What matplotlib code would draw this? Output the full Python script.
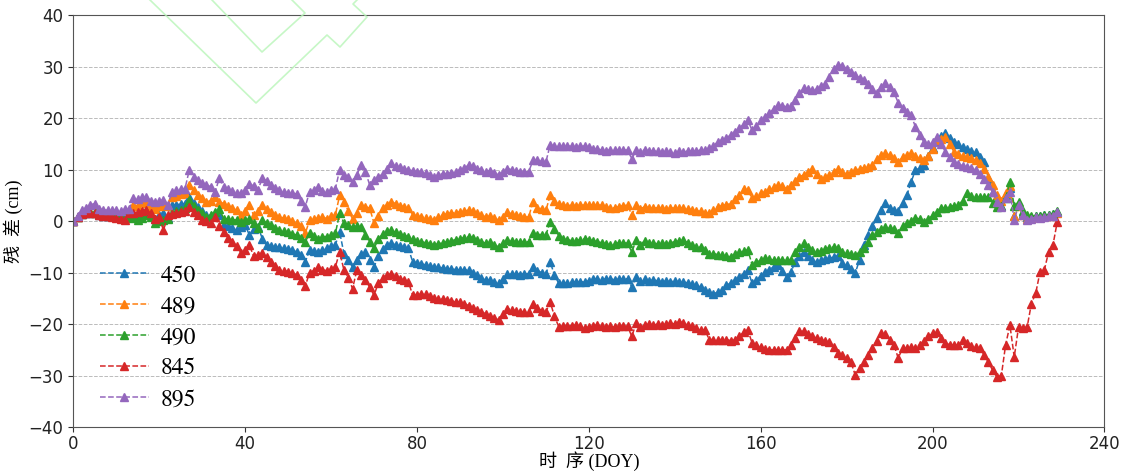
import matplotlib
matplotlib.use('Agg')
import matplotlib.pyplot as plt
from matplotlib.lines import Line2D

# residuals (cm) per day of year
doy = list(range(0, 230))

res_450 = [
    0, 0.8, 1.4, 1.6, 1.6, 1.5, 1.2, 1.0, 1.0, 0.9,
    0.9, 0.8, 0.8, 0.8, 0.8, 1.0, 1.6, 2.1, 1.2, 0.5,
    1.2, 1.5, 0.6, 3.1, 3.2, 3.3, 3.4, 4.7, 3.6, 2.8,
    2.0, 1.1, 1.0, 1.1, 1.1, -0.8, -1.0, -1.4, -1.7, -1.2,
    -0.8, -2.7, -1.6, -1.1, -3.4, -4.7, -4.8, -5.0, -5.1, -5.3,
    -5.4, -5.6, -6.0, -6.6, -7.9, -5.6, -5.8, -6.0, -5.6, -5.3,
    -4.9, -4.6, -2.1, -6.3, -7.6, -8.9, -7.5, -6.3, -6.0, -7.5,
    -8.9, -6.8, -5.5, -4.6, -4.3, -4.6, -4.9, -5.1, -5.3, -7.9,
    -8.1, -8.3, -8.5, -8.7, -8.9, -9.0, -9.1, -9.2, -9.3, -9.4,
    -9.5, -9.5, -9.5, -10.0, -10.5, -11.0, -11.5, -11.4, -11.8, -12.1,
    -11.2, -10.2, -10.3, -10.2, -10.4, -10.2, -10.2, -8.9, -9.6, -10.0,
    -10.2, -7.9, -10.5, -12.1, -12.1, -12.0, -11.9, -11.8, -11.8, -11.8,
    -11.6, -11.2, -11.2, -11.4, -11.2, -11.2, -11.4, -11.2, -11.2, -11.2,
    -12.8, -10.8, -11.6, -11.2, -11.6, -11.4, -11.6, -11.8, -11.6, -11.8,
    -11.6, -11.8, -11.8, -12.0, -12.2, -12.5, -12.8, -13.4, -13.8, -14.1,
    -13.8, -13.4, -12.5, -12.0, -11.4, -10.8, -10.2, -9.5, -12.1, -11.4,
    -10.6, -9.9, -9.4, -8.9, -8.5, -9.6, -10.8, -9.9, -8.0, -6.8,
    -6.0, -6.8, -7.6, -8.0, -7.6, -7.4, -7.2, -7.0, -6.7, -8.2,
    -8.5, -9.2, -10.1, -7.5, -4.7, -2.7, -1.0, 0.6, 2.2, 3.5,
    2.6, 2.1, 2.0, 3.5, 5.0, 7.6, 9.9, 10.4, 10.9, 12.6,
    14.2, 15.5, 16.5, 17.1, 16.2, 15.3, 14.9, 14.4, 14.0, 13.6,
    13.4, 12.4, 11.5, 8.3, 5.6, 4.0, 3.0, 5.0, 6.5, 1.0,
    3.2, 1.5, 0.8, 0.8, 1.0, 1.0, 1.1, 1.2, 1.4, 1.8,
]

res_489 = [
    0, 0.8, 1.5, 1.8, 1.8, 1.6, 1.5, 1.5, 1.6, 1.5,
    1.6, 1.5, 1.8, 2.0, 3.1, 3.0, 3.7, 3.5, 2.8, 2.4,
    3.0, 3.4, 3.0, 4.7, 4.9, 5.2, 5.4, 7.0, 6.0, 5.0,
    4.5, 3.7, 4.0, 4.7, 3.8, 3.4, 3.0, 2.6, 2.1, 1.1,
    2.0, 3.1, 1.1, 2.0, 3.1, 2.4, 1.8, 1.1, 0.8, 0.6,
    0.4, 0.0, -0.4, -1.0, -2.4, 0.2, 0.4, 0.6, 0.8, 0.5,
    0.9, 1.2, 5.0, 3.8, 2.0, 0.5, 1.5, 3.1, 2.8, 2.5,
    -0.4, 1.0, 2.5, 3.2, 3.8, 3.4, 3.0, 2.8, 2.5, 1.2,
    1.0, 0.8, 0.6, 0.4, 0.2, 0.8, 1.2, 1.4, 1.6, 1.6,
    1.8, 2.0, 2.1, 2.0, 1.6, 1.2, 0.8, 1.0, 0.6, 0.2,
    0.8, 1.8, 1.4, 1.2, 1.0, 0.8, 0.8, 3.8, 2.6, 2.4,
    2.1, 5.0, 4.0, 3.4, 3.1, 3.0, 3.1, 3.0, 3.1, 3.1,
    3.1, 3.2, 3.1, 3.1, 2.8, 2.5, 2.6, 2.8, 3.0, 3.1,
    1.2, 3.1, 2.4, 2.8, 2.6, 2.5, 2.6, 2.5, 2.4, 2.6,
    2.5, 2.6, 2.5, 2.4, 2.2, 2.0, 1.9, 1.6, 1.5, 2.2,
    2.8, 3.0, 3.2, 3.4, 4.2, 5.0, 6.3, 6.0, 4.4, 4.8,
    5.4, 5.7, 6.2, 6.6, 7.0, 6.8, 6.3, 7.0, 7.8, 8.6,
    9.0, 9.6, 10.2, 9.2, 8.2, 8.6, 9.0, 9.6, 10.2, 9.6,
    9.2, 9.5, 9.9, 10.2, 10.4, 10.6, 10.9, 12.0, 12.8, 13.2,
    12.8, 12.2, 11.5, 12.4, 12.8, 13.2, 12.6, 12.2, 11.8, 12.6,
    14.0, 15.7, 16.0, 16.3, 15.0, 13.4, 13.0, 12.6, 12.4, 12.2,
    11.8, 11.2, 10.2, 8.5, 7.0, 5.0, 4.0, 5.5, 6.8, 1.0,
    3.0, 1.2, 0.5, 0.6, 0.8, 0.8, 0.9, 1.0, 1.2, 1.5,
]

res_490 = [
    0, 0.8, 1.4, 1.8, 1.8, 1.8, 1.3, 1.1, 1.1, 1.1,
    1.1, 1.1, 1.0, 0.8, 0.6, 0.2, 0.6, 1.1, 0.8, -0.4,
    0.0, 0.2, 0.4, 1.5, 2.0, 2.2, 2.5, 4.1, 3.0, 2.1,
    1.5, 0.8, 1.2, 1.8, 2.4, 0.5, 0.4, 0.3, 0.2, -0.1,
    0.2, 0.5, -0.3, -1.4, 0.2, -0.4, -0.8, -1.4, -1.8, -2.0,
    -2.2, -2.5, -2.7, -3.2, -4.0, -2.4, -2.8, -3.4, -3.0, -3.0,
    -2.6, -2.4, 1.5, -0.4, -0.8, -1.2, -1.0, -1.1, -2.7, -4.0,
    -5.3, -3.5, -2.5, -2.0, -1.7, -2.2, -2.5, -2.8, -3.0, -3.5,
    -3.8, -4.0, -4.2, -4.4, -4.6, -4.4, -4.2, -4.0, -3.8, -3.6,
    -3.4, -3.2, -3.0, -3.2, -3.6, -4.0, -4.3, -4.0, -4.6, -5.0,
    -4.2, -3.7, -3.8, -4.0, -4.0, -4.0, -4.0, -2.4, -2.6, -2.6,
    -2.7, -0.1, -1.5, -2.8, -3.4, -3.6, -3.8, -3.8, -3.6, -3.4,
    -3.6, -3.8, -4.0, -4.2, -4.4, -4.7, -4.4, -4.2, -4.2, -4.3,
    -6.0, -3.7, -4.6, -3.8, -4.3, -4.3, -4.4, -4.3, -4.4, -4.2,
    -4.0, -3.9, -3.7, -4.2, -4.6, -5.0, -5.0, -5.6, -6.3, -6.3,
    -6.5, -6.6, -6.8, -6.9, -6.4, -6.0, -5.8, -5.6, -8.5, -8.0,
    -7.6, -7.2, -7.4, -7.6, -7.6, -7.6, -7.6, -7.6, -6.0, -5.0,
    -4.3, -5.0, -5.6, -6.0, -5.8, -5.4, -5.2, -5.0, -5.2, -6.0,
    -6.2, -6.4, -6.6, -6.0, -5.3, -4.0, -2.7, -2.2, -1.6, -1.2,
    -1.4, -1.5, -2.3, -1.0, -0.4, 0.0, 0.6, 0.4, -0.1, 0.4,
    1.1, 1.8, 2.5, 2.6, 2.8, 3.0, 3.1, 4.0, 5.4, 4.8,
    4.7, 4.6, 4.7, 4.7, 3.6, 2.7, 3.0, 4.5, 7.6, 3.0,
    3.7, 2.0, 1.2, 1.0, 1.0, 1.0, 1.1, 1.2, 1.4, 2.0,
]

res_845 = [
    0, 0.8, 1.4, 1.6, 1.6, 1.5, 1.2, 1.0, 0.9, 0.8,
    0.6, 0.5, 0.2, 1.5, 1.6, 1.8, 2.0, 2.1, 1.5, 0.5,
    0.8, -1.8, 1.1, 1.4, 1.6, 1.8, 2.0, 2.8, 1.8, 1.1,
    0.2, 0.0, -0.4, 0.8, -1.0, -2.2, -3.2, -4.0, -4.8, -6.1,
    -5.6, -4.7, -6.8, -6.6, -6.1, -7.0, -8.0, -8.8, -9.5, -9.6,
    -9.8, -10.0, -10.5, -11.5, -12.6, -10.0, -9.6, -9.0, -9.5, -9.6,
    -9.2, -8.9, -6.0, -9.5, -11.0, -13.1, -9.5, -10.4, -11.5, -12.8,
    -14.4, -12.0, -11.0, -10.5, -10.2, -10.6, -11.2, -11.5, -11.8, -14.4,
    -14.3, -14.2, -14.2, -14.6, -15.0, -15.2, -15.1, -15.3, -15.5, -15.7,
    -15.7, -16.0, -16.4, -16.8, -17.2, -17.6, -18.0, -18.4, -18.8, -19.2,
    -18.0, -17.0, -17.2, -17.4, -17.6, -17.6, -17.6, -16.0, -16.8, -17.4,
    -17.6, -15.7, -18.5, -20.5, -20.4, -20.4, -20.3, -20.2, -20.4, -20.8,
    -20.6, -20.4, -20.2, -20.4, -20.6, -20.4, -20.6, -20.4, -20.4, -20.4,
    -22.4, -19.8, -20.6, -20.2, -20.0, -20.2, -20.0, -20.2, -20.0, -19.8,
    -20.0, -19.5, -19.8, -20.2, -20.4, -20.8, -21.1, -21.1, -23.0, -23.0,
    -23.0, -23.0, -23.0, -23.2, -23.0, -22.4, -21.6, -21.1, -23.7, -24.0,
    -24.4, -24.8, -25.0, -25.0, -25.0, -25.0, -25.0, -24.0, -22.6, -21.4,
    -21.4, -22.0, -22.4, -22.7, -23.0, -23.3, -23.4, -24.5, -25.6, -26.0,
    -26.5, -27.4, -29.9, -28.6, -27.4, -26.0, -24.7, -23.2, -21.7, -22.0,
    -23.0, -24.0, -26.6, -24.7, -24.7, -24.5, -24.7, -24.0, -23.2, -22.4,
    -21.8, -21.5, -22.6, -23.7, -24.0, -24.1, -24.1, -23.0, -23.6, -24.2,
    -24.4, -24.7, -26.0, -27.4, -29.0, -30.3, -30.0, -24.0, -20.2, -26.4,
    -20.6, -20.8, -20.6, -16.0, -14.0, -9.9, -9.5, -6.0, -4.7, -0.2,
]

res_895 = [
    0, 1.0, 2.1, 2.6, 3.2, 3.4, 2.4, 2.2, 2.1, 2.1,
    2.2, 2.0, 2.3, 2.4, 4.4, 4.2, 4.6, 4.7, 4.0, 3.7,
    4.0, 4.1, 3.2, 5.7, 6.0, 6.2, 6.3, 9.9, 8.6, 8.0,
    7.5, 7.0, 6.7, 5.7, 8.3, 6.7, 6.3, 5.9, 5.5, 5.4,
    6.0, 7.3, 6.8, 6.1, 8.3, 7.8, 7.0, 6.5, 6.0, 5.7,
    5.5, 5.4, 5.3, 4.0, 2.8, 5.7, 6.0, 6.7, 5.9, 5.7,
    6.0, 6.3, 9.9, 9.0, 8.5, 7.6, 9.0, 10.9, 9.6, 7.0,
    8.0, 8.5, 9.2, 10.2, 11.2, 10.8, 10.5, 10.2, 9.9, 9.8,
    9.6, 9.5, 9.3, 9.0, 8.6, 9.0, 9.2, 9.2, 9.4, 9.6,
    10.0, 10.3, 10.9, 10.7, 10.2, 10.0, 9.6, 9.8, 9.3, 9.0,
    9.6, 10.2, 10.0, 9.8, 9.6, 9.6, 9.6, 11.8, 11.8, 11.6,
    11.5, 14.8, 14.6, 14.5, 14.5, 14.6, 14.5, 14.4, 14.5, 14.6,
    14.4, 14.1, 14.0, 13.8, 13.7, 13.8, 13.8, 13.8, 13.8, 13.8,
    12.1, 13.8, 13.4, 13.9, 13.6, 13.6, 13.6, 13.4, 13.6, 13.4,
    13.2, 13.6, 13.4, 13.6, 13.6, 13.6, 13.8, 13.8, 14.2, 14.6,
    15.4, 15.8, 16.2, 16.7, 17.4, 18.0, 18.8, 19.6, 17.6, 18.4,
    19.6, 20.3, 21.0, 21.8, 22.5, 22.4, 22.2, 22.4, 23.6, 24.8,
    25.8, 25.6, 25.4, 25.6, 26.2, 26.7, 28.0, 29.6, 30.3, 30.2,
    29.6, 29.0, 28.4, 27.8, 27.4, 26.6, 25.6, 24.9, 26.0, 26.8,
    26.0, 25.0, 23.0, 22.0, 21.2, 20.6, 18.3, 16.8, 15.3, 15.0,
    15.4, 16.3, 15.0, 13.4, 12.4, 11.5, 11.0, 10.8, 10.5, 10.3,
    9.9, 9.2, 8.2, 7.0, 5.6, 3.7, 2.7, 4.5, 5.6, 0.2,
    3.1, 1.2, 0.2, 0.5, 0.8, 0.6, 0.8, 0.9, 1.0, 1.7,
]

labels = ['450', '489', '490', '845', '895']
series = [res_450, res_489, res_490, res_845, res_895]
colors = ['#1f77b4', '#ff7f0e', '#2ca02c', '#d62728', '#9467bd']

fig = plt.figure(figsize=(11.27, 4.73), dpi=100)
ax = fig.add_axes([0.065, 0.097, 0.915, 0.871])

for vals, lab, col in zip(series, labels, colors):
    ax.plot(doy, vals, linestyle='--', marker='^', markersize=6,
            linewidth=1.1, color=col, label=lab)

ax.set_xlim(0, 240)
ax.set_ylim(-40, 40)
ax.set_xticks(range(0, 241, 40))
ax.set_yticks(range(-40, 41, 10))
ax.tick_params(labelsize=12, colors='#333333', labelcolor='#222222')
ax.tick_params(axis='x', pad=2)
ax.yaxis.grid(True, linestyle='--', color='#bbbbbb', linewidth=0.7)
for sp in ax.spines.values():
    sp.set_color('#555555')

lab_font = ['Liberation Serif', 'Noto Sans CJK SC']
ax.set_xlabel('时  序 (DOY)', family=lab_font, fontsize=13, labelpad=-1)
ax.set_ylabel('残  差 (cm)', family=lab_font, fontsize=13, labelpad=4)

ax.legend(loc='upper left', bbox_to_anchor=(0.005, 0.445), frameon=False,
          prop={'family': 'STIXGeneral', 'size': 17},
          handlelength=2.1, handletextpad=0.5, labelspacing=0.4)

# faint green watermark strokes in the top left of the source image
W, H = 1127, 473
wm = [
    [(150, 0), (256, 103), (327, 35), (340, 47), (367, 17), (353, 4), (357, 0)],
    [(212, 0), (262, 52), (305, 13), (292, 0)],
]
for pts in wm:
    xs = [p[0] / W for p in pts]
    ys = [1 - p[1] / H for p in pts]
    fig.add_artist(Line2D(xs, ys, color='#b8f5b8', linewidth=1.2, alpha=0.8))

fig.savefig('out.png', dpi=100)
